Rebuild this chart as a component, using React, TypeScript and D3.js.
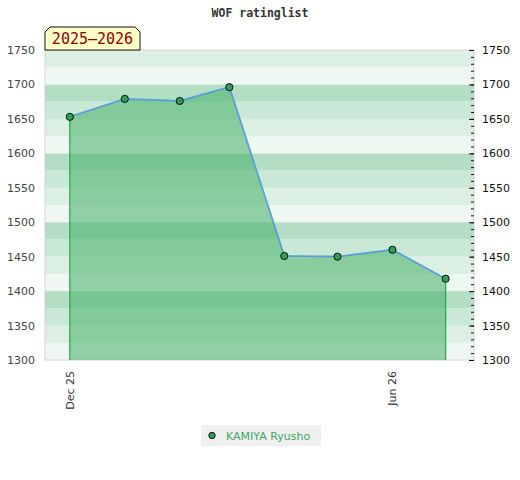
import React, { useRef, useEffect } from "react";
import * as d3 from "d3";

// monthly rating points
const dates = [
  "2025-12-01",
  "2026-01-01",
  "2026-02-01",
  "2026-03-01",
  "2026-04-01",
  "2026-05-01",
  "2026-06-01",
  "2026-07-01",
];
const ratings = [1653, 1679, 1676, 1696, 1451, 1450, 1460, 1418];
const playerName = "KAMIYA Ryusho";
const seasonLabel = "2025\u20132026";
const chartTitle = "WOF ratinglist";
const xTickDates = ["2025-12-01", "2026-06-01"];
const xTickLabels = ["Dec 25", "Jun 26"];

export default function App() {
  const svgRef = useRef(null);
  const width = 520;
  const height = 480;

  useEffect(() => {
    const marginTop = 50;
    const marginLeft = 45;
    const marginRight = 46;
    const marginBottom = 120;
    const parse = d3.utcParse("%Y-%m-%d");

    const data = dates.map((d, i) => ({ date: parse(d) as Date, value: ratings[i] }));

    const x = d3
      .scaleUtc()
      .domain([new Date(Date.UTC(2025, 10, 17)), new Date(Date.UTC(2026, 6, 17))])
      .range([marginLeft, width - marginRight]);

    const y = d3
      .scaleLinear()
      .domain([1300, 1750])
      .range([height - marginBottom, marginTop]);

    const svg = d3.select(svgRef.current);
    svg.selectAll("*").remove();
    svg.attr("width", width).attr("height", height).attr("viewBox", `0 0 ${width} ${height}`);

    const x0 = marginLeft;
    const x1 = width - marginRight;
    const fmt = d3.format("d");

    // background bands, 4 shades per 100 points
    const bandColors = ["#eef7f2", "#dcefe3", "#c9e8d5", "#b3dec4"];
    svg
      .append("g")
      .selectAll("rect")
      .data(d3.range(1300, 1750, 25))
      .join("rect")
      .attr("x", x0)
      .attr("width", x1 - x0)
      .attr("y", (d) => y(d + 25))
      .attr("height", (d) => y(d) - y(d + 25))
      .attr("fill", (d) => bandColors[((d - 1300) / 25) % 4]);

    // frame
    svg
      .append("rect")
      .attr("x", x0)
      .attr("y", marginTop)
      .attr("width", x1 - x0)
      .attr("height", height - marginBottom - marginTop)
      .attr("fill", "none")
      .attr("stroke", "#d4d4d4");

    // area under the line
    const area = d3
      .area<{ date: Date; value: number }>()
      .x((d) => x(d.date))
      .y0(y(1300))
      .y1((d) => y(d.value));

    svg
      .append("path")
      .datum(data)
      .attr("fill", "rgb(70,176,104)")
      .attr("fill-opacity", 0.55)
      .attr("d", area);

    // drop lines at the ends
    const ends = [data[0], data[data.length - 1]];
    svg
      .append("g")
      .selectAll("line")
      .data(ends)
      .join("line")
      .attr("x1", (d) => x(d.date))
      .attr("x2", (d) => x(d.date))
      .attr("y1", (d) => y(d.value))
      .attr("y2", y(1300))
      .attr("stroke", "#22a84c")
      .attr("stroke-width", 1.2);

    const line = d3
      .line<{ date: Date; value: number }>()
      .x((d) => x(d.date))
      .y((d) => y(d.value));

    svg
      .append("path")
      .datum(data)
      .attr("fill", "none")
      .attr("stroke", "#5b9fd8")
      .attr("stroke-width", 1.8)
      .attr("d", line);

    svg
      .append("g")
      .selectAll("circle")
      .data(data)
      .join("circle")
      .attr("cx", (d) => x(d.date))
      .attr("cy", (d) => y(d.value))
      .attr("r", 3.6)
      .attr("fill", "#2e9e57")
      .attr("stroke", "#111")
      .attr("stroke-width", 1);

    const font = "DejaVu Sans, sans-serif";

    // left axis: labels only
    svg
      .append("g")
      .attr("transform", `translate(${x0},0)`)
      .call(
        d3.axisLeft(y).tickValues(d3.range(1300, 1751, 50)).tickFormat(fmt).tickSize(0).tickPadding(10)
      )
      .call((g) => g.select(".domain").remove())
      .call((g) =>
        g.selectAll("text").attr("font-family", font).attr("font-size", 11).attr("fill", "#444")
      );

    // right axis: minor + major ticks pointing inward
    svg
      .append("g")
      .attr("transform", `translate(${x1},0)`)
      .call(d3.axisLeft(y).tickValues(d3.range(1300, 1751, 10)).tickSize(3).tickFormat(() => ""))
      .call((g) => g.select(".domain").remove())
      .call((g) => g.selectAll("line").attr("stroke", "#111"));

    svg
      .append("g")
      .attr("transform", `translate(${x1},0)`)
      .call(
        d3.axisRight(y).tickValues(d3.range(1300, 1751, 50)).tickFormat(fmt).tickSize(0).tickPadding(8)
      )
      .call((g) => g.select(".domain").remove())
      .call((g) =>
        g.selectAll("text").attr("font-family", font).attr("font-size", 11).attr("fill", "#111")
      );

    svg
      .append("g")
      .attr("transform", `translate(${x1},0)`)
      .call(d3.axisLeft(y).tickValues(d3.range(1300, 1751, 50)).tickSize(5).tickFormat(() => ""))
      .call((g) => g.select(".domain").remove())
      .call((g) => g.selectAll("line").attr("stroke", "#111"));

    // bottom axis, rotated labels
    svg
      .append("g")
      .selectAll("text")
      .data(xTickDates)
      .join("text")
      .attr("transform", (d) => `translate(${x(parse(d) as Date) + 4},${y(1300) + 11}) rotate(-90)`)
      .attr("text-anchor", "end")
      .attr("font-family", font)
      .attr("font-size", 11)
      .attr("fill", "#333")
      .text((_, i) => xTickLabels[i]);

    // title
    svg
      .append("text")
      .attr("x", width / 2)
      .attr("y", 17)
      .attr("text-anchor", "middle")
      .attr("font-family", "DejaVu Sans Mono, monospace")
      .attr("font-weight", "bold")
      .attr("font-size", 11.5)
      .attr("fill", "#333")
      .text(chartTitle);

    // season label box
    const bx = x0;
    const by = 27;
    const bw = 95;
    const bh = 23;
    const c = 5;
    svg
      .append("path")
      .attr(
        "d",
        `M${bx},${by + bh}V${by + c}L${bx + c},${by}H${bx + bw - c}L${bx + bw},${by + c}V${by + bh}Z`
      )
      .attr("fill", "#ffffc8")
      .attr("stroke", "#111")
      .attr("stroke-width", 1);
    svg
      .append("text")
      .attr("x", bx + bw / 2)
      .attr("y", by + 17)
      .attr("text-anchor", "middle")
      .attr("font-family", "DejaVu Sans Mono, monospace")
      .attr("font-size", 15)
      .attr("fill", "#8b0000")
      .text(seasonLabel);

    // legend
    const legend = svg.append("g").attr("transform", "translate(201,425)");
    legend.append("rect").attr("width", 120).attr("height", 21).attr("fill", "#f0f0f0");
    legend
      .append("circle")
      .attr("cx", 11)
      .attr("cy", 10.5)
      .attr("r", 3.2)
      .attr("fill", "#2e9e57")
      .attr("stroke", "#111");
    legend
      .append("text")
      .attr("x", 25)
      .attr("y", 15)
      .attr("font-family", font)
      .attr("font-size", 11)
      .attr("fill", "#3aa864")
      .text(playerName);
  }, []);

  return (
    <svg
      ref={svgRef}
      style={{ position: "absolute", left: 0, top: 0, background: "#fff" }}
    ></svg>
  );
}
